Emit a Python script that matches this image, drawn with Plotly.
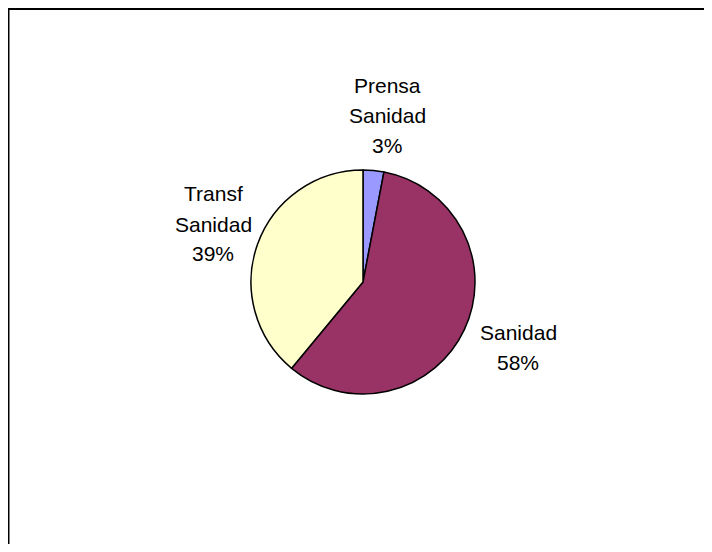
import plotly.graph_objects as go

labels = ["Prensa Sanidad", "Sanidad", "Transf Sanidad"]
values = [3, 58, 39]
colors = ["#9999FF", "#993366", "#FFFFCC"]

# figure sized to fit inside the page's default 8px body margin
OFF = 8
W, H = 712 - 2 * OFF, 552 - 2 * OFF
cx, cy, r = 363 - OFF, 282 - OFF, 112

# label anchor positions (page pixels, center of label block)
label_pos = {
    "Prensa Sanidad": (387, 115),
    "Sanidad": (518, 347),
    "Transf Sanidad": (213, 224),
}
line_gap = 30

fig = go.Figure()
fig.add_trace(go.Pie(
    labels=labels,
    values=values,
    sort=False,
    direction="clockwise",
    rotation=0,
    marker=dict(colors=colors, line=dict(color="black", width=1.5)),
    textinfo="none",
    hoverinfo="label+percent",
    showlegend=False,
    domain=dict(x=[(cx - r) / W, (cx + r) / W],
                y=[(H - cy - r) / H, (H - cy + r) / H]),
))

total = sum(values)
annotations = []
for lab, v in zip(labels, values):
    lines = lab.split(" ") + [f"{round(v / total * 100)}%"]
    px, pyc = label_pos[lab]
    x0, yc = px - OFF, pyc - OFF
    n = len(lines)
    for i, t in enumerate(lines):
        y = yc + (i - (n - 1) / 2) * line_gap
        annotations.append(dict(
            x=x0 / W, y=1 - y / H, xref="paper", yref="paper",
            text=t, showarrow=False, xanchor="center", yanchor="middle",
            font=dict(family="Liberation Sans, Arial, sans-serif", size=21, color="black"),
        ))

fig.update_layout(
    width=W, height=H,
    margin=dict(l=0, r=0, t=0, b=0),
    paper_bgcolor="white",
    plot_bgcolor="white",
    annotations=annotations,
    shapes=[
        # white cover for the right edge
        dict(type="rect", xref="paper", yref="paper", layer="above",
             x0=(W - 8) / W, x1=1.05, y0=-0.05, y1=1 - 3 / H,
             fillcolor="white", line=dict(width=0)),
        dict(type="line", xref="paper", yref="paper",
             x0=0, x1=1, y0=1 - 1 / H, y1=1 - 1 / H,
             line=dict(color="black", width=2)),
        dict(type="line", xref="paper", yref="paper",
             x0=0.5 / W, x1=0.5 / W, y0=0, y1=1,
             line=dict(color="black", width=2)),
    ],
)

fig.write_html("out.html")
